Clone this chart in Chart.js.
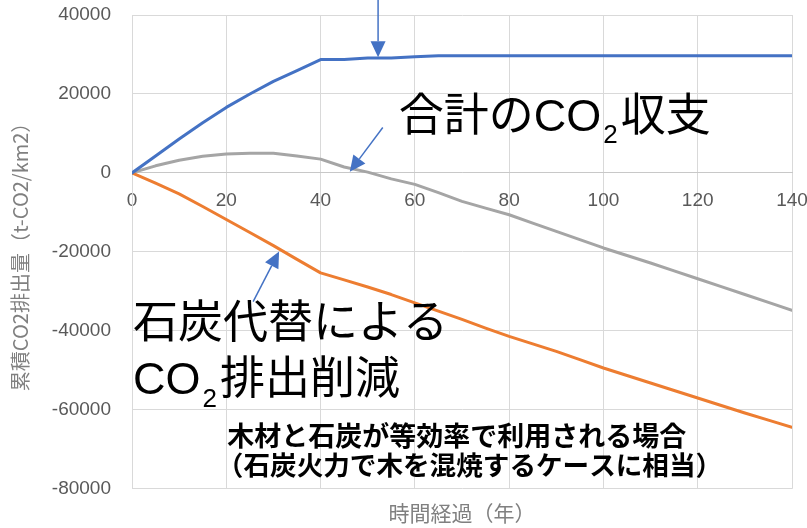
<!DOCTYPE html>
<html lang="ja">
<head>
<meta charset="utf-8">
<title>累積CO2排出量</title>
<script src="https://cdn.jsdelivr.net/npm/chart.js@4.4.1/dist/chart.umd.min.js"></script>
<style>
  html, body { margin: 0; padding: 0; background: #fff; }
  #wrap { position: relative; width: 807px; height: 528px; }
</style>
</head>
<body>
<div id="wrap"><canvas id="chart"></canvas></div>
<script>
// years since planting
const years = [0, 5, 10, 15, 20, 25, 30, 35, 40, 45, 50, 55, 60, 65, 70,
  75, 80, 85, 90, 95, 100, 105, 110, 115, 120, 125, 130, 135, 140];

// cumulative emissions, t-CO2/km2
const forestUptake = [0, 4300, 8600, 12700, 16600, 20000, 23200, 25900, 28700, 28700,
  29100, 29100, 29400, 29700, 29700, 29700, 29700, 29700, 29700, 29700,
  29700, 29700, 29700, 29700, 29700, 29700, 29700, 29700, 29700];
const coalSubstitution = [0, -2600, -5300, -8500, -11800, -15100, -18400, -21900, -25300, -27100,
  -28900, -30800, -32900, -35000, -37100, -39300, -41400, -43300, -45200, -47300,
  -49400, -51300, -53200, -55100, -57000, -58900, -60800, -62600, -64400];
const netBalance = [0, 1800, 3200, 4200, 4800, 5000, 5000, 4300, 3500, 1500,
  200, -1500, -2900, -5000, -7200, -8900, -10600, -12700, -14800, -16900,
  -19000, -20900, -22800, -24800, -26800, -28800, -30800, -32800, -34800];

const xTicks = [0, 20, 40, 60, 80, 100, 120, 140];
const yTicks = [40000, 20000, 0, -20000, -40000, -60000, -80000];

const CJK = "'Noto Sans CJK JP', sans-serif";
const MIXED = "'Liberation Sans', 'Noto Sans CJK JP', sans-serif";
const ARROW_COLOR = '#4472C4';

// callouts, placed in data units
const arrows = [
  {from: [52.2, 44000], to: [52.2, 29300]},
  {from: [53.2, 11500], to: [46.2, 300]},
  {from: [25.7, -32600], to: [31.2, -19900]}
];
const labels = [
  {x: 56.6, y: 13750, size: 45, parts: ['合計の', 'CO', {sub: '2'}, '収支']},
  {x: 0.2, y: -38700, size: 45, parts: ['石炭代替による']},
  {x: 0.2, y: -52900, size: 45, parts: ['CO', {sub: '2'}, '排出削減']},
  {x: 20.2, y: -66500, size: 27, bold: true, parts: ['木材と石炭が等効率で利用される場合']},
  {x: 18.0, y: -73900, size: 26.6, bold: true, parts: ['（石炭火力で木を混焼するケースに相当）']}
];

function toPoints(values) {
  return years.map((x, i) => ({x, y: values[i]}));
}

function drawArrow(ctx, x1, y1, x2, y2) {
  const ang = Math.atan2(y2 - y1, x2 - x1);
  const len = 16, half = 7.5;
  const bx = x2 - Math.cos(ang) * len, by = y2 - Math.sin(ang) * len;
  ctx.strokeStyle = ARROW_COLOR;
  ctx.fillStyle = ARROW_COLOR;
  ctx.lineWidth = 1.5;
  ctx.beginPath();
  ctx.moveTo(x1, y1);
  ctx.lineTo(bx, by);
  ctx.stroke();
  ctx.beginPath();
  ctx.moveTo(x2, y2);
  ctx.lineTo(bx + Math.sin(ang) * half, by - Math.cos(ang) * half);
  ctx.lineTo(bx - Math.sin(ang) * half, by + Math.cos(ang) * half);
  ctx.closePath();
  ctx.fill();
}

function drawLabel(ctx, label, x, y) {
  const weight = label.bold ? 'bold ' : '';
  const family = label.bold ? CJK : MIXED;
  const mainFont = weight + label.size + 'px ' + family;
  const subFont = weight + Math.round(label.size * 0.58) + 'px ' + family;
  ctx.fillStyle = '#000';
  ctx.textAlign = 'left';
  ctx.textBaseline = 'middle';
  let cx = x;
  label.parts.forEach(part => {
    if (typeof part === 'string') {
      ctx.font = mainFont;
      ctx.fillText(part, cx, y);
      cx += ctx.measureText(part).width;
    } else {
      ctx.font = subFont;
      cx += 2;
      ctx.fillText(part.sub, cx, y + label.size * 0.39);
      cx += ctx.measureText(part.sub).width + 3;
    }
  });
}

const calloutPlugin = {
  id: 'callouts',
  afterDraw(chart) {
    const {ctx, scales: {x, y}} = chart;
    ctx.save();
    arrows.forEach(a => {
      drawArrow(ctx,
        x.getPixelForValue(a.from[0]), y.getPixelForValue(a.from[1]),
        x.getPixelForValue(a.to[0]), y.getPixelForValue(a.to[1]));
    });
    labels.forEach(l => drawLabel(ctx, l, x.getPixelForValue(l.x), y.getPixelForValue(l.y)));
    ctx.restore();
  }
};

const lineStyle = {
  borderWidth: 3,
  pointRadius: 0,
  tension: 0,
  borderCapStyle: 'round',
  borderJoinStyle: 'round'
};

const tickFont = {family: "'Liberation Sans', sans-serif", size: 19};

new Chart(document.getElementById('chart'), {
  type: 'line',
  data: {
    datasets: [
      {label: '森林吸収', data: toPoints(forestUptake), borderColor: '#4472C4', ...lineStyle},
      {label: '石炭代替', data: toPoints(coalSubstitution), borderColor: '#ED7D31', ...lineStyle},
      {label: '合計', data: toPoints(netBalance), borderColor: '#A5A5A5', ...lineStyle}
    ]
  },
  options: {
    responsive: true,
    maintainAspectRatio: false,
    animation: false,
    events: [],
    layout: {padding: {top: 15, right: 15, left: 0, bottom: 0}},
    plugins: {
      legend: {display: false},
      tooltip: {enabled: false},
      title: {
        display: true,
        position: 'bottom',
        fullSize: false,
        text: '時間経過（年）',
        color: '#808080',
        font: {family: CJK, size: 21, weight: 'normal'},
        padding: {top: 12, bottom: 2}
      }
    },
    scales: {
      x: {
        type: 'linear',
        min: 0,
        max: 140,
        position: {y: 0},
        afterBuildTicks: s => { s.ticks = xTicks.map(v => ({value: v})); },
        // axis sits on the zero line, so it takes no layout room
        afterFit: s => { s.height = 0; s.paddingLeft = 0; s.paddingRight = 0; },
        grid: {color: '#d9d9d9', drawTicks: false},
        border: {color: '#c8c8c8'},
        ticks: {color: '#595959', font: tickFont, padding: 16, maxRotation: 0, callback: v => String(v)}
      },
      y: {
        min: -80000,
        max: 40000,
        afterBuildTicks: s => { s.ticks = yTicks.map(v => ({value: v})); },
        afterFit: s => { s.width = 132; s.paddingTop = 0; s.paddingBottom = 0; },
        grid: {color: '#d9d9d9', drawTicks: false},
        border: {color: '#d9d9d9'},
        ticks: {color: '#595959', font: tickFont, padding: 21, callback: v => String(v)},
        title: {
          display: true,
          text: '累積CO2排出量（t-CO2/km2）',
          color: '#808080',
          font: {family: CJK, size: 20},
          padding: {top: 8, bottom: 0}
        }
      }
    }
  },
  plugins: [calloutPlugin]
});
</script>
</body>
</html>
